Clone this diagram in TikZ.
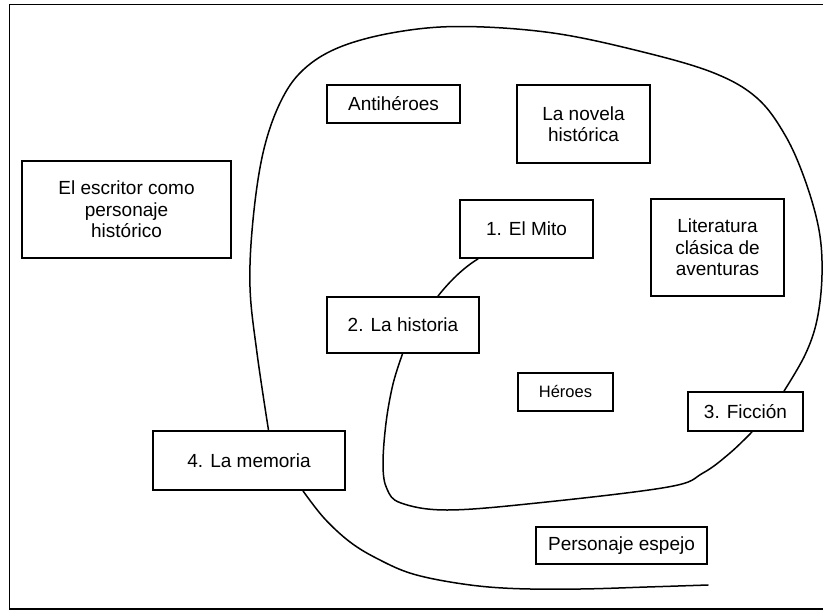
\documentclass[tikz,border=0pt]{standalone}
\usepackage{fontspec}
\setmainfont{Liberation Sans}
\usetikzlibrary{calc}
\begin{document}
\begin{tikzpicture}[x=1pt,y=-1pt,
  box/.style={draw, line width=1.8pt, inner sep=0pt, align=center,
    font=\fontsize{19}{21.5}\selectfont},
  curve/.style={line width=1.5pt, line join=round, line cap=round}]
\useasboundingbox (0,0) rectangle (823,611);
\draw[line width=1.8pt] (9.5,4.5) rectangle (830,609);

\node[box, minimum width=209pt, minimum height=97pt] (escritor) at (126.5,209.5) {El escritor como\\personaje\\histórico};
\node[box, minimum width=133pt, minimum height=38pt] (anti) at (393.5,104) {Antihéroes};
\node[box, minimum width=133pt, minimum height=78pt] (novela) at (583.5,124) {La novela\\histórica};
\node[box, minimum width=133pt, minimum height=58pt] (mito) at (526.5,229) {1. El Mito};
\node[box, minimum width=133pt, minimum height=97pt] (lit) at (717.5,247.5) {Literatura\\clásica de\\aventuras};
\node[box, minimum width=152pt, minimum height=56pt] (historia) at (403,325) {2. La historia};
\node[box, minimum width=95pt, minimum height=38pt, font=\fontsize{16.5}{19}\selectfont] (heroes) at (565.5,392) {Héroes};
\node[box, minimum width=115pt, minimum height=39pt] (ficcion) at (745.5,411.5) {3. Ficción};
\node[box, minimum width=192pt, minimum height=59pt] (memoria) at (249,460.5) {4. La memoria};
\node[box, minimum width=171pt, minimum height=37pt] (espejo) at (621.5,545.5) {Personaje espejo};

\coordinate (m1) at ($(mito.south)+(-48.5,0)$);
\coordinate (h1) at ($(historia.north)+(35,0)$);
\coordinate (h2) at ($(historia.south)+(-0.5,0)$);
\coordinate (f1) at ($(ficcion.south)+(6.5,0)$);
\coordinate (f2) at ($(ficcion.north)+(38.5,0)$);
\coordinate (r1) at ($(memoria.north)+(19.5,0)$);
\coordinate (r2) at ($(memoria.south)+(54,0)$);
\coordinate (fin) at (708,585);

\draw[curve] (m1) .. controls (463,268) and (449,282) .. (h1);
\draw[curve] plot[smooth, tension=0.6] coordinates {(h2) (393,384) (386,423) (383,465) (387,489) (401,503) (447,510) (537,503) (668,487) (703,473) (730,453) (f1)};
\draw[curve] plot[smooth, tension=0.6] coordinates {(f2) (805,355) (817,320) (822,275) (819,230) (805,180) (785,135) (757,98) (714,73) (643,52) (553,33) (463,26.5) (397,32) (340,47) (303,70) (280,103) (263,153) (253,220) (250,287) (257,353) (r1)};
\draw[curve] plot[smooth, tension=0.6] coordinates {(r2) (324,518) (350,542) (378,559) (413,574) (463,584) (513,588.5) (580,589) (647,587) (fin)};
\end{tikzpicture}
\end{document}
